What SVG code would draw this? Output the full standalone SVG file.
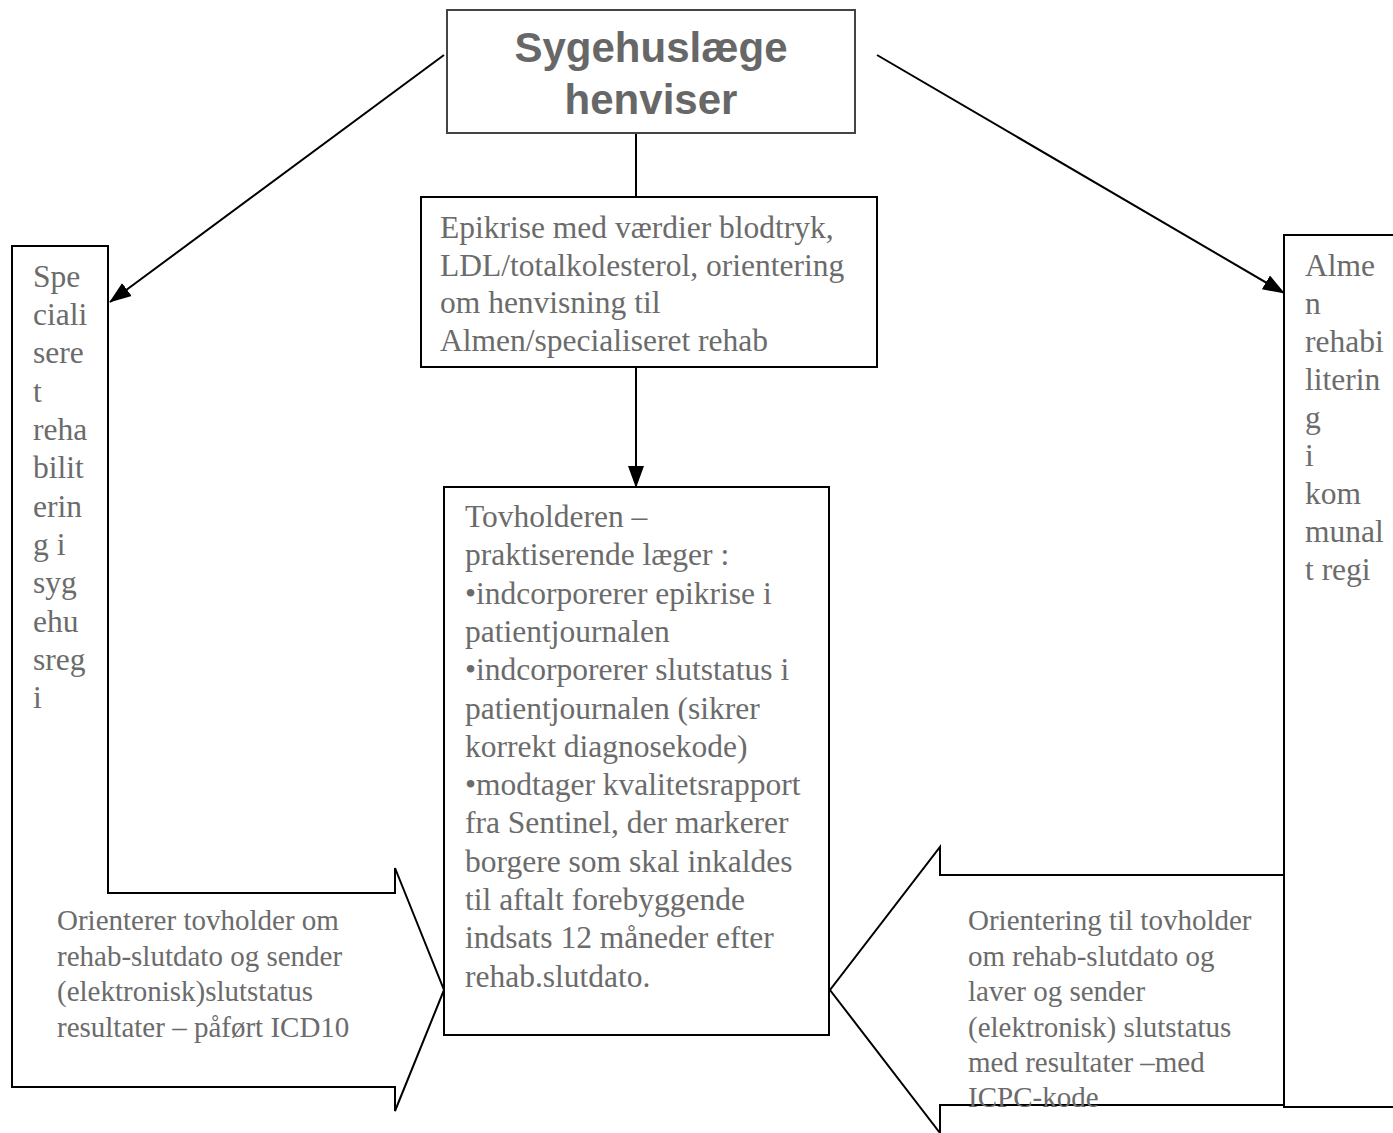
<svg xmlns="http://www.w3.org/2000/svg" width="1393" height="1133" viewBox="0 0 1393 1133">
<style>
.box{fill:#fff;stroke:#000;stroke-width:2}
.t{font-family:"Liberation Serif","Times New Roman",serif;fill:#6b6b6b}
.title{font-family:"Liberation Sans",Arial,sans-serif;font-weight:bold;fill:#676767;font-size:42px}
.con{stroke:#000;stroke-width:2;fill:none}
</style>
<defs>
<marker id="ah" markerUnits="userSpaceOnUse" markerWidth="22" markerHeight="18" viewBox="0 0 22 18" refX="21" refY="9" orient="auto">
<path d="M0,1 L22,9 L0,17 Z" fill="#000"/>
</marker>
</defs>
<rect width="1393" height="1133" fill="#fff"/>

<g id="connectors">
<line class="con" x1="444" y1="55" x2="110" y2="302" marker-end="url(#ah)"/>
<line class="con" x1="877" y1="55" x2="1284" y2="293" marker-end="url(#ah)"/>
<line class="con" x1="636" y1="133" x2="636" y2="197"/>
<line class="con" x1="636" y1="367" x2="636" y2="487" marker-end="url(#ah)"/>
</g>

<g id="sygehuslaege">
<rect class="box" x="447" y="10" width="408" height="123" style="stroke:#444"/>
<text class="title" x="651" y="62" text-anchor="middle">Sygehuslæge</text>
<text class="title" x="651" y="114" text-anchor="middle">henviser</text>
</g>

<g id="epikrise">
<rect class="box" x="421" y="197" width="456" height="170"/>
<text class="t" font-size="31.5">
<tspan x="440" y="238">Epikrise med værdier blodtryk,</tspan>
<tspan x="440" y="276">LDL/totalkolesterol, orientering</tspan>
<tspan x="440" y="313">om henvisning til</tspan>
<tspan x="440" y="351">Almen/specialiseret rehab</tspan>
</text>
</g>

<g id="specialiseret">
<path class="box" d="M12,246 H108 V893 H395 V868 L444,990 L395,1111 V1087 H12 Z"/>
<text class="t" font-size="31.5">
<tspan x="33" y="287">Spe</tspan>
<tspan x="33" y="325">ciali</tspan>
<tspan x="33" y="363">sere</tspan>
<tspan x="33" y="402">t</tspan>
<tspan x="33" y="440">reha</tspan>
<tspan x="33" y="478">bilit</tspan>
<tspan x="33" y="517">erin</tspan>
<tspan x="33" y="555">g i</tspan>
<tspan x="33" y="593">syg</tspan>
<tspan x="33" y="632">ehu</tspan>
<tspan x="33" y="670">sreg</tspan>
<tspan x="33" y="708">i</tspan>
</text>
<text class="t" font-size="29">
<tspan x="57" y="930">Orienterer tovholder om</tspan>
<tspan x="57" y="965.5">rehab-slutdato og sender</tspan>
<tspan x="57" y="1001">(elektronisk)slutstatus</tspan>
<tspan x="57" y="1036.5">resultater – påført ICD10</tspan>
</text>
</g>

<g id="almen">
<rect class="box" x="1284" y="235" width="120" height="872"/>
<text class="t" font-size="31.5">
<tspan x="1305" y="276">Alme</tspan>
<tspan x="1305" y="314">n</tspan>
<tspan x="1305" y="352">rehabi</tspan>
<tspan x="1305" y="390">literin</tspan>
<tspan x="1305" y="428">g</tspan>
<tspan x="1305" y="466">i</tspan>
<tspan x="1305" y="504">kom</tspan>
<tspan x="1305" y="542">munal</tspan>
<tspan x="1305" y="580">t regi</tspan>
</text>
<path class="box" d="M1284,875 H940 V847 L830,990 L940,1133 V1105 H1284"/>
<line class="con" x1="1284" y1="875" x2="1284" y2="1105"/>
<text class="t" font-size="29">
<tspan x="968" y="930">Orientering til tovholder</tspan>
<tspan x="968" y="965.5">om rehab-slutdato og</tspan>
<tspan x="968" y="1001">laver og sender</tspan>
<tspan x="968" y="1036.5">(elektronisk) slutstatus</tspan>
<tspan x="968" y="1072">med resultater –med</tspan>
<tspan x="968" y="1107">ICPC-kode</tspan>
</text>
</g>

<g id="tovholderen">
<rect class="box" x="444" y="487" width="385" height="548"/>
<text class="t" font-size="31.5">
<tspan x="465" y="527">Tovholderen –</tspan>
<tspan x="465" y="565">praktiserende læger :</tspan>
<tspan x="465" y="604">•indcorporerer epikrise i</tspan>
<tspan x="465" y="642">patientjournalen</tspan>
<tspan x="465" y="680">•indcorporerer slutstatus i</tspan>
<tspan x="465" y="719">patientjournalen (sikrer</tspan>
<tspan x="465" y="757">korrekt diagnosekode)</tspan>
<tspan x="465" y="795">•modtager kvalitetsrapport</tspan>
<tspan x="465" y="833">fra Sentinel, der markerer</tspan>
<tspan x="465" y="872">borgere som skal inkaldes</tspan>
<tspan x="465" y="910">til aftalt forebyggende</tspan>
<tspan x="465" y="948">indsats 12 måneder efter</tspan>
<tspan x="465" y="987">rehab.slutdato.</tspan>
</text>
</g>
</svg>
